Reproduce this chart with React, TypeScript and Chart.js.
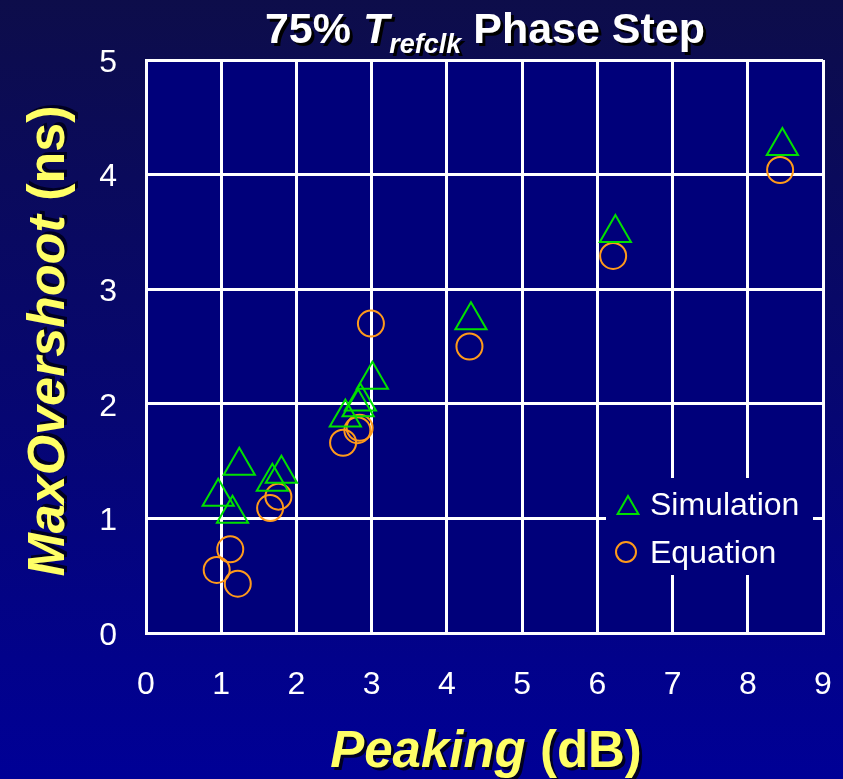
import React, { useEffect, useRef } from "react";
import { Chart, registerables } from "chart.js";

Chart.register(...registerables);

const simLabel = "Simulation";
const eqLabel = "Equation";
const simX = [0.96, 1.15, 1.24, 1.68, 1.8, 2.65, 2.82, 2.85, 3.01, 4.32, 6.24, 8.46];
const simY = [1.19, 1.04, 1.46, 1.32, 1.39, 1.88, 1.97, 2.02, 2.21, 2.73, 3.49, 4.25];
const eqX = [0.94, 1.12, 1.22, 1.65, 1.76, 2.62, 2.81, 2.84, 2.99, 4.3, 6.21, 8.43];
const eqY = [0.55, 0.73, 0.43, 1.09, 1.19, 1.66, 1.77, 1.79, 2.7, 2.5, 3.29, 4.04];
const xTicks = [0, 1, 2, 3, 4, 5, 6, 7, 8, 9];
const yTicks = [0, 1, 2, 3, 4, 5];

const SIM_COLOR = "#00e000";
const EQ_COLOR = "#ff9a1a";
const YELLOW = "#ffff66";
const FONT = "'Liberation Sans', Arial, sans-serif";

function drawParts(
  ctx: CanvasRenderingContext2D,
  parts: { text: string; font: string; dy: number }[],
  color: string,
  shadow: string
) {
  let total = 0;
  const widths = parts.map((p) => {
    ctx.font = p.font;
    const w = ctx.measureText(p.text).width;
    total += w;
    return w;
  });
  const pass = (off: number, col: string) => {
    let x = -total / 2;
    parts.forEach((p, i) => {
      ctx.font = p.font;
      ctx.fillStyle = col;
      ctx.fillText(p.text, x + off, p.dy + off);
      x += widths[i];
    });
  };
  ctx.textAlign = "left";
  ctx.textBaseline = "alphabetic";
  pass(3, shadow);
  pass(0, color);
}

const decorPlugin = {
  id: "decor",
  beforeDraw(chart: any) {
    const { ctx, width, height, chartArea } = chart;
    ctx.save();
    const g = ctx.createLinearGradient(0, 0, 0, height);
    g.addColorStop(0, "#0d0d4a");
    g.addColorStop(1, "#000096");
    ctx.fillStyle = g;
    ctx.fillRect(0, 0, width, height);
    ctx.fillStyle = "#00007a";
    ctx.fillRect(chartArea.left, chartArea.top, chartArea.right - chartArea.left, chartArea.bottom - chartArea.top);
    ctx.restore();
  },
  afterDraw(chart: any) {
    const { ctx } = chart;
    ctx.save();
    ctx.translate(485, 43);
    drawParts(
      ctx,
      [
        { text: "75% ", font: `bold 43px ${FONT}`, dy: 0 },
        { text: "T", font: `italic bold 43px ${FONT}`, dy: 0 },
        { text: "refclk", font: `italic bold 27px ${FONT}`, dy: 10 },
        { text: " Phase Step", font: `bold 43px ${FONT}`, dy: 0 },
      ],
      "#ffffff",
      "#000000"
    );
    ctx.restore();
    ctx.save();
    ctx.translate(486, 767);
    drawParts(
      ctx,
      [
        { text: "Peaking", font: `italic bold 51px ${FONT}`, dy: 0 },
        { text: " (dB)", font: `bold 51px ${FONT}`, dy: 0 },
      ],
      YELLOW,
      "#000022"
    );
    ctx.restore();
    ctx.save();
    ctx.translate(64, 341);
    ctx.rotate(-Math.PI / 2);
    drawParts(
      ctx,
      [
        { text: "MaxOvershoot", font: `italic bold 52px ${FONT}`, dy: 0 },
        { text: " (ns)", font: `bold 52px ${FONT}`, dy: 0 },
      ],
      YELLOW,
      "#000022"
    );
    ctx.restore();
  },
  afterDatasetsDraw(chart: any) {
    const { ctx } = chart;
    ctx.save();
    ctx.fillStyle = "#00007a";
    ctx.fillRect(606, 478, 207, 97);
    ctx.lineWidth = 2;
    const r = 12;
    const tx = 628, ty = 508;
    ctx.strokeStyle = SIM_COLOR;
    ctx.beginPath();
    ctx.moveTo(tx, ty - r);
    ctx.lineTo(tx + r * 0.866, ty + r / 2);
    ctx.lineTo(tx - r * 0.866, ty + r / 2);
    ctx.closePath();
    ctx.stroke();
    ctx.strokeStyle = EQ_COLOR;
    ctx.beginPath();
    ctx.arc(626, 552, 10, 0, Math.PI * 2);
    ctx.stroke();
    ctx.fillStyle = "#ffffff";
    ctx.font = `32px ${FONT}`;
    ctx.textAlign = "left";
    ctx.textBaseline = "middle";
    ctx.fillText(chart.data.datasets[0].label, 650, 506);
    ctx.fillText(chart.data.datasets[1].label, 650, 554);
    ctx.restore();
  },
};

export default function App() {
  const ref = useRef<HTMLCanvasElement | null>(null);
  useEffect(() => {
    if (!ref.current) return;
    const chart = new Chart(ref.current, {
      type: "scatter",
      data: {
        datasets: [
          {
            label: simLabel,
            data: simX.map((x, i) => ({ x, y: simY[i] })),
            pointStyle: "triangle",
            pointRadius: 18,
            borderColor: SIM_COLOR,
            backgroundColor: "rgba(0,0,0,0)",
            borderWidth: 2,
          },
          {
            label: eqLabel,
            data: eqX.map((x, i) => ({ x, y: eqY[i] })),
            pointStyle: "circle",
            pointRadius: 13,
            borderColor: EQ_COLOR,
            backgroundColor: "rgba(0,0,0,0)",
            borderWidth: 2,
          },
        ],
      },
      options: {
        responsive: false,
        animation: false,
        devicePixelRatio: 1,
        layout: { padding: { left: 0, right: 20, top: 60, bottom: 0 } },
        plugins: { legend: { display: false }, tooltip: { enabled: false }, title: { display: false } },
        scales: {
          x: {
            type: "linear",
            min: 0,
            max: 9,
            afterFit: (s: any) => {
              s.height = 146;
              s.paddingLeft = 0;
              s.paddingRight = 0;
            },
            afterBuildTicks: (s: any) => {
              s.ticks = xTicks.map((v) => ({ value: v }));
            },
            grid: { color: "#ffffff", lineWidth: 3, drawTicks: false },
            border: { color: "#ffffff", width: 3 },
            ticks: { color: "#ffffff", font: { family: FONT, size: 32 }, padding: 33 },
          },
          y: {
            type: "linear",
            min: 0,
            max: 5,
            afterFit: (s: any) => {
              s.width = 146;
              s.paddingTop = 0;
              s.paddingBottom = 0;
            },
            afterBuildTicks: (s: any) => {
              s.ticks = yTicks.map((v) => ({ value: v }));
            },
            grid: { color: "#ffffff", lineWidth: 3, drawTicks: false },
            border: { color: "#ffffff", width: 3 },
            ticks: { color: "#ffffff", font: { family: FONT, size: 32 }, padding: 29, labelOffset: 3 },
          },
        },
      },
      plugins: [decorPlugin],
    } as any);
    return () => chart.destroy();
  }, []);
  return (
    <div style={{ position: "absolute", left: 0, top: 0, width: 843, height: 779 }}>
      <canvas ref={ref} width={843} height={779} style={{ display: "block" }} />
    </div>
  );
}
